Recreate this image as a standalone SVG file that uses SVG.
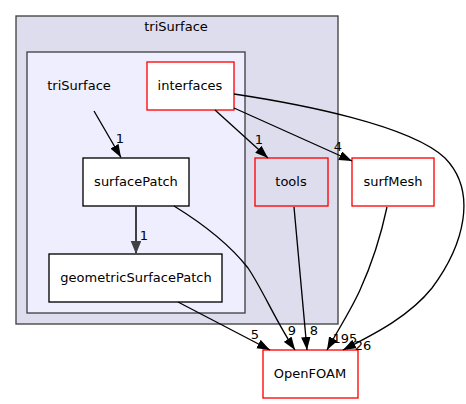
<svg xmlns="http://www.w3.org/2000/svg" width="466" height="404" viewBox="0 0 466 404">
<style>
text { font-family: "DejaVu Sans", "Liberation Sans", sans-serif; font-size: 13px; fill: #000; text-anchor: middle; }
.cl1 { fill: #ddddee; stroke: #404040; stroke-width: 1.33; }
.cl2 { fill: #eeeeff; stroke: #404040; stroke-width: 1.33; }
.nr { fill: #ffffff; stroke: #ff0000; stroke-width: 1.33; }
.nrc { fill: #ddddee; stroke: #ff0000; stroke-width: 1.33; }
.nb { fill: #ffffff; stroke: #000000; stroke-width: 1.33; }
.e { fill: none; stroke: #000; stroke-width: 1.33; marker-end: url(#ah); }
.e2 { fill: none; stroke: #404040; stroke-width: 2; marker-end: url(#ah2); }
</style>
<defs>
<marker id="ah" markerUnits="userSpaceOnUse" markerWidth="14" markerHeight="10" refX="13" refY="4.7" orient="auto">
<path d="M0,0 L13,4.7 L0,9.4 z" fill="#000"/>
</marker>
<marker id="ah2" markerUnits="userSpaceOnUse" markerWidth="14" markerHeight="11" refX="13" refY="5.3" orient="auto">
<path d="M0,0 L13,5.3 L0,10.6 z" fill="#404040"/>
</marker>
</defs>
<rect width="466" height="404" fill="#ffffff"/>
<g id="cluster_triSurface">
<rect class="cl1" x="16" y="16" width="322" height="308"/>
<text x="176" y="31">triSurface</text>
</g>
<g id="cluster_triSurface_inner">
<rect class="cl2" x="27" y="52" width="218" height="261"/>
</g>
<g id="node_triSurface">
<text x="79" y="90">triSurface</text>
</g>
<g id="node_interfaces">
<rect class="nr" x="147" y="62" width="87" height="48"/>
<text x="190" y="90">interfaces</text>
</g>
<g id="node_surfacePatch">
<rect class="nb" x="83" y="158" width="106" height="48"/>
<text x="136" y="186">surfacePatch</text>
</g>
<g id="node_geometricSurfacePatch">
<rect class="nb" x="49" y="254" width="173" height="48"/>
<text x="136" y="282">geometricSurfacePatch</text>
</g>
<g id="node_tools">
<rect class="nrc" x="255" y="158" width="73" height="48"/>
<text x="291" y="186">tools</text>
</g>
<g id="node_surfMesh">
<rect class="nr" x="352" y="158" width="82" height="48"/>
<text x="393" y="186">surfMesh</text>
</g>
<g id="node_OpenFOAM">
<rect class="nr" x="263" y="350" width="95" height="48"/>
<text x="310" y="378">OpenFOAM</text>
</g>
<g id="connectors">
<path class="e" d="M94,111 L121,157.5"/>
<text x="120" y="143">1</text>
<path class="e2" d="M136,206 L136,254"/>
<text x="144" y="240">1</text>
<path class="e" d="M215,110 L268,158"/>
<text x="259" y="144">1</text>
<path class="e" d="M234,108 L352,161"/>
<text x="338" y="151">4</text>
<path class="e" d="M234,94 C300,104 410,125 445,158 C478,192 464,245 432,288 C408,318 370,336 343,350"/>
<text x="363" y="350">26</text>
<path class="e" d="M174,206 C200,222 230,245 248,268 C263,290 276,322 295,350"/>
<text x="292" y="335">9</text>
<path class="e" d="M178,302 L270,350"/>
<text x="255" y="339">5</text>
<path class="e" d="M294,207 L307,350"/>
<text x="314" y="335">8</text>
<path class="e" d="M387,207 C380,240 370,268 360,290 C351,310 338,330 327,350"/>
<text x="345" y="343">195</text>
</g>
</svg>
